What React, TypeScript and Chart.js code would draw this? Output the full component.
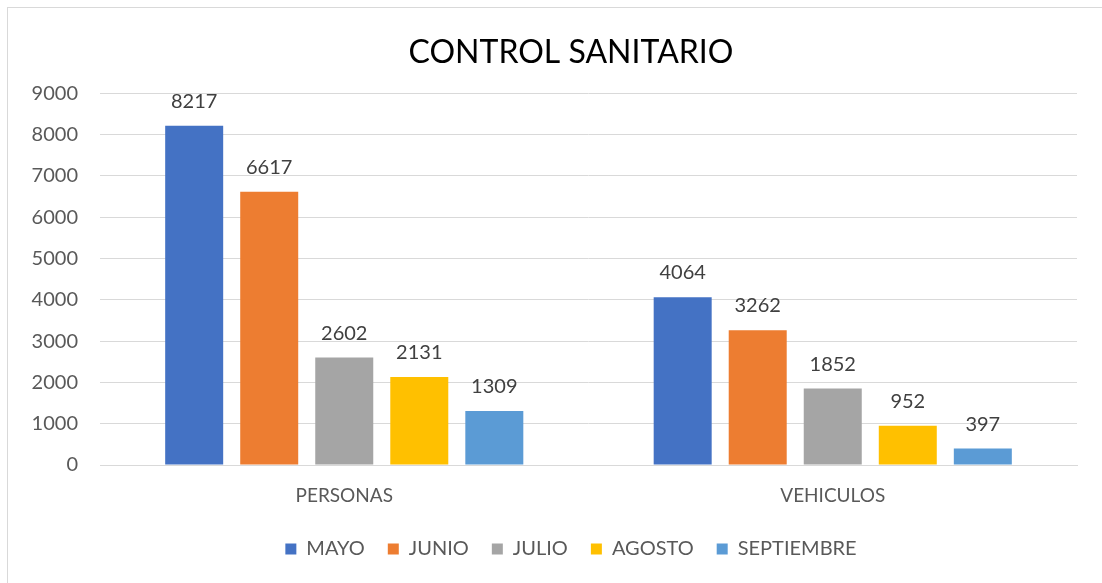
import React, { useEffect, useRef } from "react";
import { Chart, registerables } from "chart.js";

Chart.register(...registerables);

const categories = ["PERSONAS", "VEHICULOS"];
const seriesNames = ["MAYO", "JUNIO", "JULIO", "AGOSTO", "SEPTIEMBRE"];
const mayo = [8217, 4064];
const junio = [6617, 3262];
const julio = [2602, 1852];
const agosto = [2131, 952];
const septiembre = [1309, 397];
const seriesColors = ["#4472C4", "#ED7D31", "#A5A5A5", "#FFC000", "#5B9BD5"];
const yTicks = [0, 1000, 2000, 3000, 4000, 5000, 6000, 7000, 8000, 9000];

const FONT = "Lato, 'Open Sans', sans-serif";

const dataLabels = {
  id: "dataLabels",
  afterDatasetsDraw(chart: any) {
    const ctx = chart.ctx;
    ctx.save();
    ctx.font = `20px ${FONT}`;
    ctx.fillStyle = "#404040";
    ctx.textAlign = "center";
    ctx.textBaseline = "alphabetic";
    chart.data.datasets.forEach((ds: any, i: number) => {
      const meta = chart.getDatasetMeta(i);
      meta.data.forEach((bar: any, j: number) => {
        ctx.fillText(String(ds.data[j]), bar.x, bar.y - 18);
      });
    });
    ctx.restore();
  },
};

export default function App() {
  const ref = useRef<HTMLCanvasElement>(null);
  useEffect(() => {
    const values = [mayo, junio, julio, agosto, septiembre];
    const chart = new Chart(ref.current!, {
      type: "bar",
      data: {
        labels: categories,
        datasets: seriesNames.map((n, i) => ({
          label: n,
          data: values[i],
          backgroundColor: seriesColors[i],
          borderWidth: 0,
          categoryPercentage: 0.768,
          barPercentage: 0.773,
        })),
      },
      options: {
        animation: false,
        responsive: false,
        maintainAspectRatio: false,
        layout: { padding: { left: 0, right: 0, top: 0, bottom: 14 } },
        plugins: {
          title: {
            display: true,
            text: "CONTROL SANITARIO",
            color: "#000000",
            font: { family: FONT, size: 32, weight: "normal" },
            padding: { top: 33, bottom: 22 },
          },
          legend: {
            position: "bottom",
            labels: {
              boxWidth: 11,
              boxHeight: 11,
              color: "#595959",
              font: { family: FONT, size: 20 },
              padding: 23,
            },
          },
          tooltip: { enabled: false },
        },
        scales: {
          x: {
            grid: { display: false, drawTicks: false },
            border: { color: "#d9d9d9" },
            ticks: { color: "#595959", font: { family: FONT, size: 19 }, padding: 19 },
            afterFit(scale: any) {
              scale.height = 51;
            },
          },
          y: {
            min: 0,
            max: 9000,
            afterBuildTicks(scale: any) {
              scale.ticks = yTicks.map((v) => ({ value: v }));
            },
            grid: { color: "#d9d9d9", drawTicks: false },
            border: { display: false },
            ticks: {
              color: "#595959",
              font: { family: FONT, size: 20 },
              padding: 22,
              callback: (v: any) => String(v),
            },
            afterFit(scale: any) {
              scale.width = 100;
            },
          },
          yRight: {
            type: "linear",
            position: "right",
            min: 0,
            max: 9000,
            grid: { display: false, drawTicks: false },
            border: { display: false },
            ticks: { display: false },
            afterFit(scale: any) {
              scale.width = 65;
            },
          },
        },
      },
      plugins: [dataLabels],
    });
    return () => chart.destroy();
  }, []);
  return (
    <div style={{ position: "fixed", left: 0, top: 0, width: 1102, height: 583, overflow: "hidden", background: "#fff" }}>
      <div style={{ position: "absolute", left: 7, top: 7, width: 1160, height: 600, border: "1px solid #d9d9d9" }} />
      <canvas ref={ref} width={1142} height={583} style={{ position: "absolute", left: 0, top: 0 }} />
    </div>
  );
}
